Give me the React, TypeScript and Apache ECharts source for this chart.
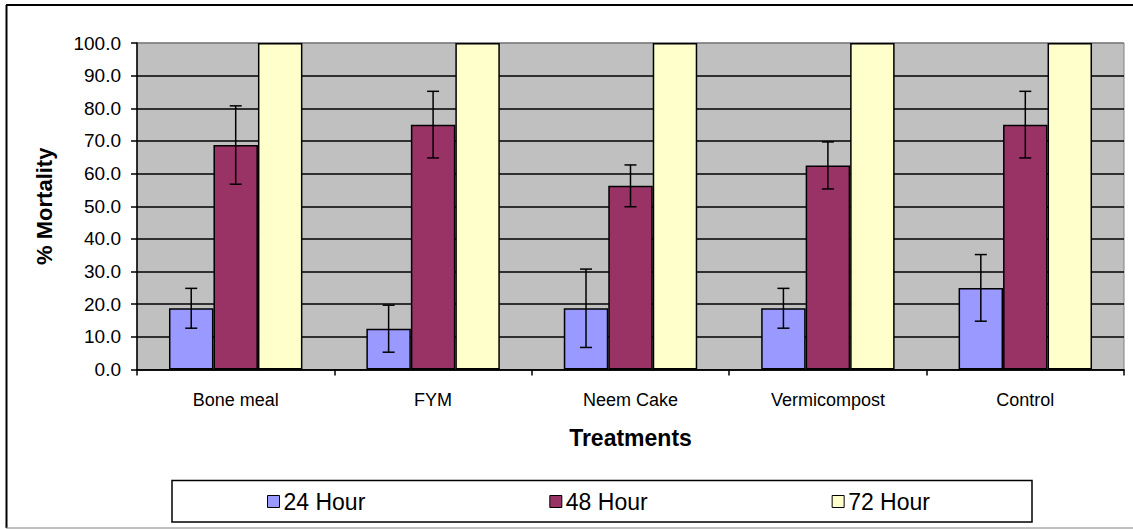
import React, { useEffect, useRef } from "react";
import * as echarts from "echarts";

const categories = ["Bone meal", "FYM", "Neem Cake", "Vermicompost", "Control"];
const seriesNames = ["24 Hour", "48 Hour", "72 Hour"];
const values24 = [18.75, 12.5, 18.75, 18.75, 25.0];
const values48 = [68.75, 75.0, 56.25, 62.5, 75.0];
const values72 = [100, 100, 100, 100, 100];
const err24 = [6.1, 7.2, 12.0, 6.1, 10.2];
const err48 = [12.0, 10.2, 6.4, 7.2, 10.2];
const colors = ["#9999FF", "#993366", "#FFFFCC"];
const yAxisTitle = "% Mortality";
const xAxisTitle = "Treatments";

const FONT = 'Arial, "Liberation Sans", sans-serif';
const GAP = 0.324;

export default function App() {
  const ref = useRef<HTMLDivElement>(null);
  useEffect(() => {
    if (!ref.current) return;
    const chart = echarts.init(ref.current, undefined, { renderer: "svg" });

    const errData = (vals: number[], errs: number[]) =>
      vals.map((v, i) => [i, v - errs[i], v + errs[i]]);

    const errSeries = (idx: number, vals: number[], errs: number[]) => ({
      type: "custom",
      z: 5,
      silent: true,
      data: errData(vals, errs),
      renderItem: (params: any, api: any) => {
        const ci = api.value(0);
        const lo = api.coord([ci, api.value(1)]);
        const hi = api.coord([ci, api.value(2)]);
        const band = api.size([1, 0])[0];
        const bw = (band * (1 - GAP)) / 3;
        const x = lo[0] + (idx - 1) * bw;
        const cap = 6;
        const style = { stroke: "#000", lineWidth: 1.5 };
        return {
          type: "group",
          children: [
            { type: "line", shape: { x1: x, y1: lo[1], x2: x, y2: hi[1] }, style },
            { type: "line", shape: { x1: x - cap, y1: lo[1], x2: x + cap, y2: lo[1] }, style },
            { type: "line", shape: { x1: x - cap, y1: hi[1], x2: x + cap, y2: hi[1] }, style },
          ],
        };
      },
    });

    const splitColors = Array.from({ length: 11 }, (_, i) => (i === 10 ? "#808080" : "#000000"));

    const barSeries = (name: string, data: number[], color: string) => ({
      name,
      type: "bar",
      data,
      barGap: "0%",
      barCategoryGap: GAP * 100 + "%",
      itemStyle: { color, borderColor: "#000", borderWidth: 1.5 },
      z: 3,
    });

    chart.setOption({
      animation: false,
      textStyle: { fontFamily: FONT },
      grid: {
        left: 137,
        top: 43,
        width: 987,
        height: 326.5,
        show: true,
        backgroundColor: "#C0C0C0",
        borderColor: "#808080",
        borderWidth: 1,
      },
      legend: {
        left: 267,
        top: 490,
        itemGap: 184,
        itemWidth: 12,
        itemHeight: 12,
        icon: "rect",
        padding: 0,
        data: seriesNames,
        itemStyle: { borderColor: "#000", borderWidth: 1 },
        textStyle: { fontSize: 23, color: "#000", fontFamily: FONT, padding: [0, 0, 0, -1] },
      },
      xAxis: {
        type: "category",
        data: categories,
        name: xAxisTitle,
        nameLocation: "middle",
        nameGap: 57,
        nameTextStyle: { fontSize: 23, fontWeight: "bold", color: "#000", fontFamily: FONT },
        axisLine: { lineStyle: { color: "#000", width: 1.5 } },
        axisTick: { show: true, length: 6, lineStyle: { color: "#000", width: 1.5 } },
        axisLabel: { color: "#000", fontSize: 18, margin: 21, fontFamily: FONT },
      },
      yAxis: {
        type: "value",
        min: 0,
        max: 100,
        interval: 10,
        name: yAxisTitle,
        nameLocation: "middle",
        nameRotate: 90,
        nameGap: 82,
        nameTextStyle: { fontSize: 22, fontWeight: "bold", color: "#000", fontFamily: FONT },
        axisLine: { show: true, lineStyle: { color: "#000", width: 1.5 } },
        axisTick: { show: true, length: 6, lineStyle: { color: "#000", width: 1.5 } },
        axisLabel: {
          color: "#000",
          fontSize: 19,
          margin: 16,
          fontFamily: FONT,
          formatter: (v: number) => v.toFixed(1),
        },
        splitLine: { show: true, lineStyle: { color: splitColors, width: 1.5 } },
      },
      graphic: [
        { type: "line", shape: { x1: 6, y1: 5, x2: 1140, y2: 5 }, style: { stroke: "#000", lineWidth: 2 } },
        { type: "line", shape: { x1: 6.5, y1: 5, x2: 6.5, y2: 528 }, style: { stroke: "#000", lineWidth: 2 } },
        { type: "line", shape: { x1: 6, y1: 528, x2: 1140, y2: 528 }, style: { stroke: "#808080", lineWidth: 1 } },
        {
          type: "rect",
          z: -1,
          shape: { x: 172, y: 480.5, width: 860, height: 41.5 },
          style: { fill: "#fff", stroke: "#000", lineWidth: 1.5 },
        },
      ],
      series: [
        barSeries(seriesNames[0], values24, colors[0]),
        barSeries(seriesNames[1], values48, colors[1]),
        barSeries(seriesNames[2], values72, colors[2]),
        errSeries(0, values24, err24),
        errSeries(1, values48, err48),
      ],
    });

    return () => chart.dispose();
  }, []);

  return (
    <div
      ref={ref}
      style={{ position: "fixed", left: 0, top: 0, width: 1133, height: 529, background: "#fff" }}
    />
  );
}
